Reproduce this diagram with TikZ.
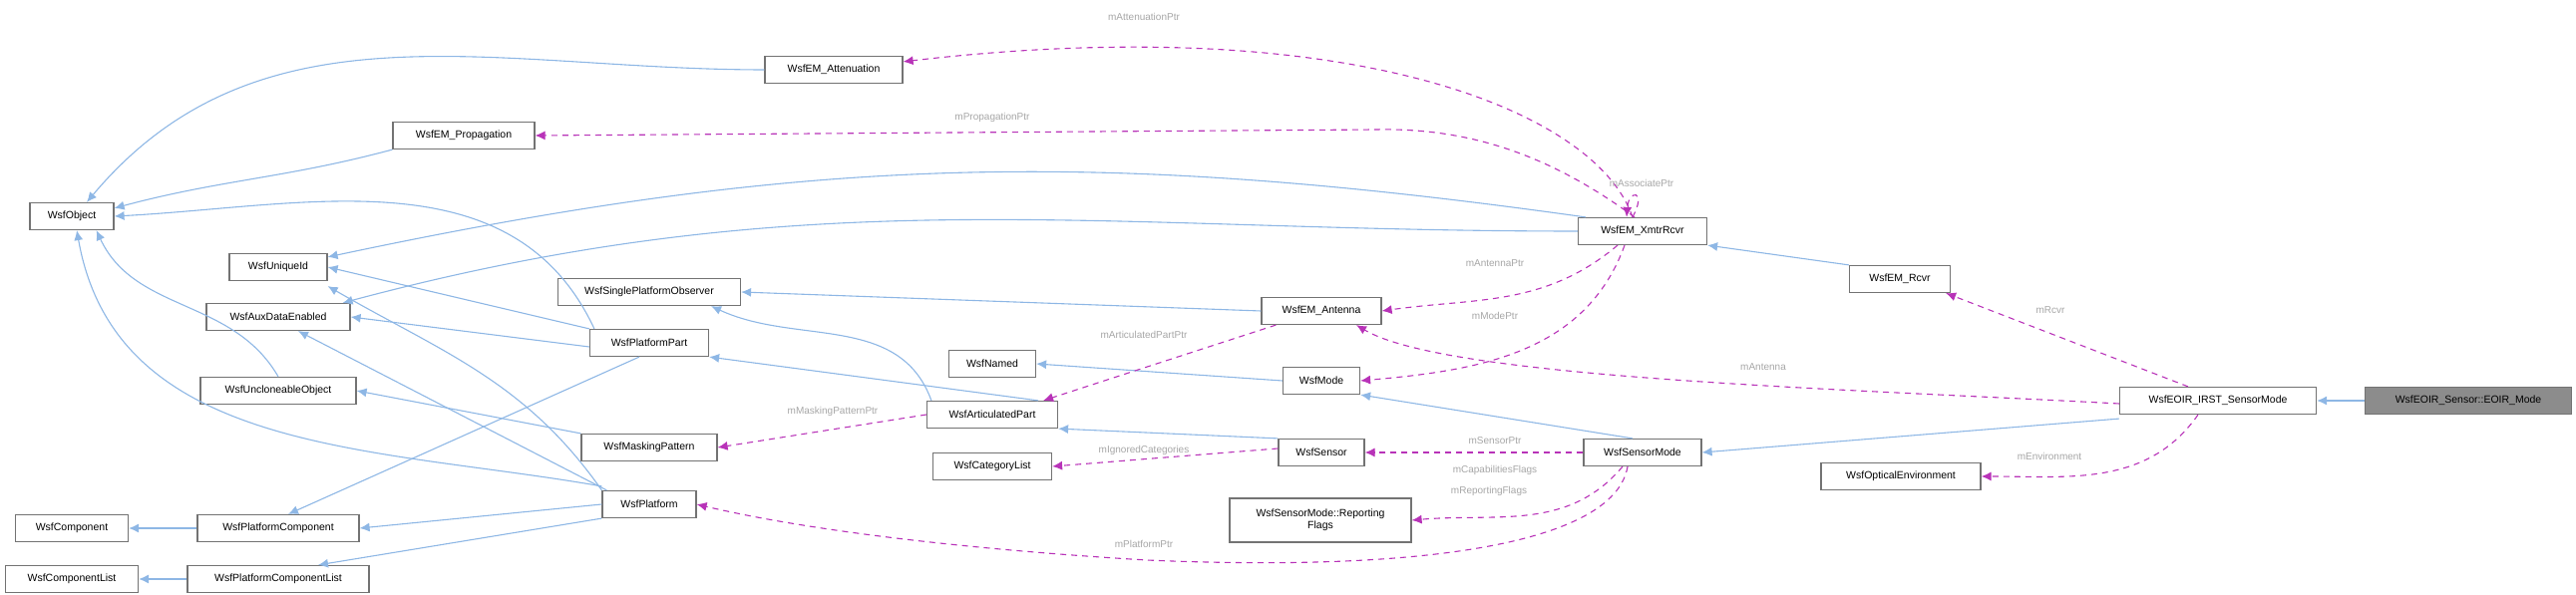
\documentclass[tikz,border=0pt]{standalone}
\usepackage{fontspec}
\setmainfont{Liberation Sans}
\usetikzlibrary{positioning,arrows.meta}
\begin{document}
\begin{tikzpicture}[
            x=0.2pt, y=-0.2pt,
            cls/.style={rectangle, draw=black!55, line width=0.24pt, fill=white, minimum height=5.4pt, inner sep=0.4pt, font=\fontsize{2.1}{2.4}\selectfont, align=center},
            inh/.style={-{Latex[length=2pt,width=1.8pt]}, draw=cyan!60!blue!45, line width=0.22pt},
            use/.style={-{Latex[length=2pt,width=1.8pt]}, draw=violet!70!magenta!80, line width=0.22pt, dash pattern=on 1.2pt off 1pt},
            lbl/.style={text=black!35, font=\fontsize{2}{2.4}\selectfont, inner sep=0pt}
        ]
        \useasboundingbox (0,0) rectangle (2583,597);
        % classes
        \node[cls, minimum width=27.6pt] (attn) at (836,70) {WsfEM\_Attenuation};
        \node[cls, minimum width=28.4pt] (prop) at (465,136) {WsfEM\_Propagation};
        \node[cls, minimum width=16.8pt] (obj) at (72,217) {WsfObject};
        \node[cls, minimum width=19.6pt] (uid) at (279,268) {WsfUniqueId};
        \node[cls, minimum width=28.8pt] (aux) at (279,318) {WsfAuxDataEnabled};
        \node[cls, minimum width=36.6pt] (spo) at (651,293) {WsfSinglePlatformObserver};
        \node[cls, minimum width=23.8pt] (ppart) at (651,344) {WsfPlatformPart};
        \node[cls, minimum width=31.2pt] (uncl) at (279,392) {WsfUncloneableObject};
        \node[cls, minimum width=27.2pt] (mask) at (651,449) {WsfMaskingPattern};
        \node[cls, minimum width=18.8pt] (plat) at (651,506) {WsfPlatform};
        \node[cls, minimum width=22.6pt] (comp) at (72,530) {WsfComponent};
        \node[cls, minimum width=32.4pt] (pcomp) at (279,530) {WsfPlatformComponent};
        \node[cls, minimum width=26.6pt] (clist) at (72,581) {WsfComponentList};
        \node[cls, minimum width=36.4pt] (pclist) at (279,581) {WsfPlatformComponentList};
        \node[cls, minimum width=25.8pt] (xr) at (1647,232) {WsfEM\_XmtrRcvr};
        \node[cls, minimum width=24pt] (ant) at (1325,312) {WsfEM\_Antenna};
        \node[cls, minimum width=17.4pt] (named) at (995,365) {WsfNamed};
        \node[cls, minimum width=15.4pt] (mode) at (1325,382) {WsfMode};
        \node[cls, minimum width=26.2pt] (art) at (995,416) {WsfArticulatedPart};
        \node[cls, minimum width=17.2pt] (sens) at (1325,454) {WsfSensor};
        \node[cls, minimum width=23.6pt] (smode) at (1647,454) {WsfSensorMode};
        \node[cls, minimum width=23.8pt] (cat) at (995,468) {WsfCategoryList};
        \node[cls, minimum width=36.4pt, minimum height=8.8pt] (flags) at (1324,522) {WsfSensorMode::Reporting\\Flags};
        \node[cls, minimum width=20.2pt] (rcvr) at (1905,280) {WsfEM\_Rcvr};
        \node[cls, minimum width=39.4pt] (irst) at (2224,402) {WsfEOIR\_IRST\_SensorMode};
        \node[cls, minimum width=41.4pt, fill=black!45] (eoir) at (2475,402) {WsfEOIR\_Sensor::EOIR\_Mode};
        \node[cls, minimum width=32pt] (opt) at (1906,478) {WsfOpticalEnvironment};

        % inheritance
        \draw[inh] (attn.west) to[out=180,in=50] ([xshift=3pt]obj.north);
        \draw[inh] (prop.south west) to[out=195,in=15] ([yshift=-1.2pt]obj.north east);
        \draw[inh] ([xshift=1pt]ppart.north west) to[out=115,in=3] (obj.east);
        \draw[inh] ([xshift=1.6pt]xr.north west) to[out=172,in=12] ([yshift=-0.8pt]uid.north east);
        \draw[inh] (xr.west) to[out=180,in=15] ([xshift=-1.6pt]aux.north east);
        \draw[inh] (rcvr.north west) -- (xr.south east);
        \draw[inh] (ant.west) -- (spo.east);
        \draw[inh] ([xshift=1pt]art.north west) to[out=110,in=-25] ([xshift=-6pt]spo.south east);
        \draw[inh] ([xshift=-4pt]art.north east) -- (ppart.south east);
        \draw[inh] (ppart.north west) -- (uid.east);
        \draw[inh] ([yshift=-0.8pt]ppart.west) -- (aux.east);
        \draw[inh] ([xshift=-2pt]ppart.south) -- ([xshift=2pt]pcomp.north);
        \draw[inh] (mask.north west) -- (uncl.east);
        \draw[inh] ([yshift=0.8pt]plat.north west) to[out=170,in=-80] ([xshift=1pt]obj.south);
        \draw[inh] (plat.north west) to[out=125,in=-30] ([yshift=-1pt]uid.south east);
        \draw[inh] ([xshift=1pt]plat.north west) -- ([xshift=4pt]aux.south);
        \draw[inh] (plat.west) -- (pcomp.east);
        \draw[inh] (plat.south west) -- ([xshift=8pt]pclist.north);
        \draw[inh] (uncl.north) to[out=120,in=-65] ([xshift=-3.6pt]obj.south east);
        \draw[inh] (pcomp.west) -- (comp.east);
        \draw[inh] (pclist.west) -- (clist.east);
        \draw[inh] (mode.west) -- (named.east);
        \draw[inh] ([xshift=-2pt]smode.north) -- (mode.south east);
        \draw[inh] (sens.north west) -- (art.south east);
        \draw[inh] ([yshift=-0.8pt]irst.south west) -- (smode.east);
        \draw[inh] (eoir.west) -- (irst.east);

        % members
        \draw[use] ([xshift=-2pt]xr.north) .. controls (1600,110) and (1350,10) .. ([yshift=-1.2pt]attn.north east);
        \draw[use] ([xshift=-1.6pt]xr.north) .. controls (1560,160) and (1480,128) .. (1380,130) -- (prop.east);
        \draw[use] ([xshift=-2pt]xr.north) .. controls +(15,-28) and +(2,-28) .. ([xshift=-3.2pt]xr.north);
        \draw[use] ([xshift=-5pt]xr.south) to[out=-140,in=8] (ant.east);
        \draw[use] ([xshift=-3.6pt]xr.south) to[out=-110,in=5] (mode.east);
        \draw[use] ([xshift=3pt]ant.south west) -- ([xshift=-3pt]art.north east);
        \draw[use] (art.west) -- (mask.east);
        \draw[use] ([yshift=0.8pt]sens.west) -- (cat.east);
        \draw[use] (smode.west) -- (sens.east);
        \draw[use] ([xshift=-4pt]smode.south) to[out=-130,in=5] (flags.east);
        \draw[use] ([xshift=-3pt]smode.south) .. controls (1620,540) and (1450,575) .. (1150,562) .. controls (950,550) and (800,530) .. (plat.east);
        \draw[use] ([xshift=-6pt]irst.north) -- ([xshift=-1pt]rcvr.south east);
        \draw[use] ([yshift=-0.6pt]irst.west) .. controls (1850,390) and (1450,380) .. ([xshift=7pt]ant.south);
        \draw[use] ([xshift=-4pt]irst.south) to[out=-125,in=0] (opt.east);

        % member names
        \node[lbl] (lattn) at (1147,17) {mAttenuationPtr};
        \node[lbl] (lprop) at (995,118) {mPropagationPtr};
        \node[lbl] (lassoc) at (1646,184) {mAssociatePtr};
        \node[lbl] (lant) at (1499,264) {mAntennaPtr};
        \node[lbl] (lmode) at (1499,317) {mModePtr};
        \node[lbl] (lart) at (1147,336) {mArticulatedPartPtr};
        \node[lbl] (lantenna) at (1768,368) {mAntenna};
        \node[lbl] (lmask) at (835,413) {mMaskingPatternPtr};
        \node[lbl] (lcat) at (1147,452) {mIgnoredCategories};
        \node[lbl] (lsens) at (1499,442) {mSensorPtr};
        \node[lbl] (lcap) at (1499,472) {mCapabilitiesFlags};
        \node[lbl] (lrep) at (1493,493) {mReportingFlags};
        \node[lbl] (lplat) at (1147,546) {mPlatformPtr};
        \node[lbl] (lrcvr) at (2056,311) {mRcvr};
        \node[lbl] (lenv) at (2055,458) {mEnvironment};
\end{tikzpicture}
\end{document}
